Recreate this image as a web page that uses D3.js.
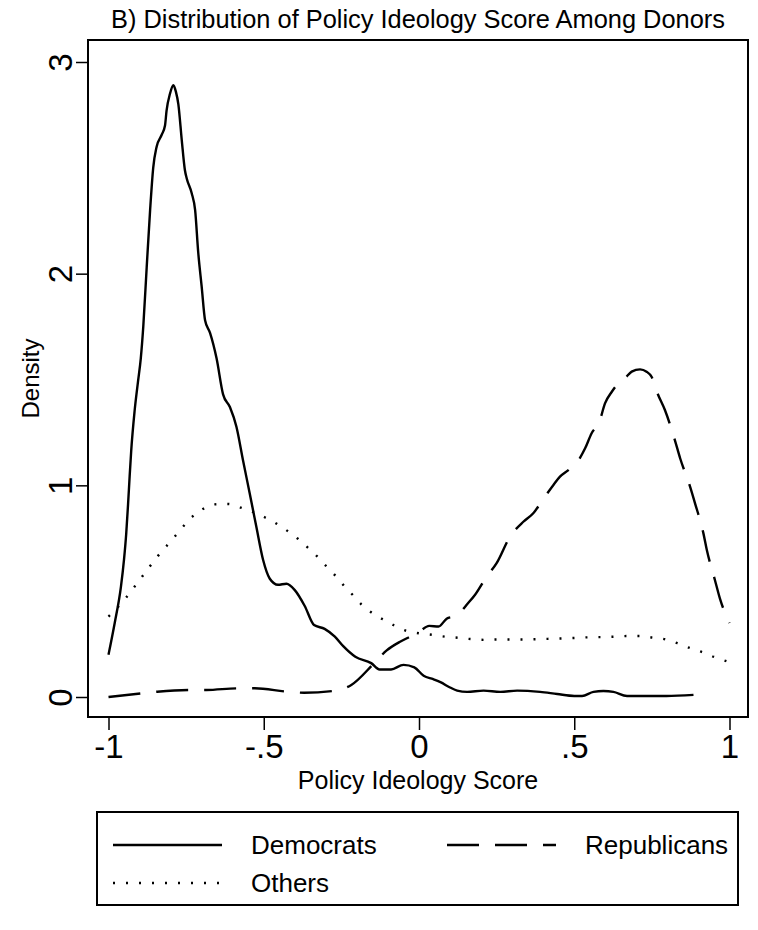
<!DOCTYPE html>
<html>
<head>
<meta charset="utf-8">
<script src="https://cdn.jsdelivr.net/npm/d3@7"></script>
<style>
  html, body { margin: 0; padding: 0; background: #fff; }
  svg { display: block; }
  text { font-family: "Liberation Sans", Arial, Helvetica, sans-serif; fill: #000; }
</style>
</head>
<body>
<svg id="chart" width="758" height="930"></svg>
<script>
// ---------- data ----------
const titleText = "B) Distribution of Policy Ideology Score Among Donors";
const xTitle = "Policy Ideology Score";
const yTitle = "Density";
const xTicks = [-1, -0.5, 0, 0.5, 1];
const xTickLabels = ["-1", "-.5", "0", ".5", "1"];
const yTicks = [0, 1, 2, 3];
const yTickLabels = ["0", "1", "2", "3"];
const seriesNames = ["Democrats", "Republicans", "Others"];

const demX = [-1.0, -0.98, -0.96, -0.95, -0.943, -0.937, -0.932, -0.927, -0.916, -0.905, -0.896, -0.888, -0.877, -0.866, -0.856, -0.845, -0.829, -0.818, -0.813, -0.802, -0.791, -0.783, -0.775, -0.764, -0.754, -0.748, -0.732, -0.721, -0.711, -0.700, -0.689, -0.673, -0.652, -0.631, -0.609, -0.588, -0.567, -0.545, -0.524, -0.502, -0.481, -0.454, -0.427, -0.400, -0.368, -0.338, -0.304, -0.271, -0.244, -0.205, -0.154, -0.127, -0.09, -0.05, -0.015, 0.015, 0.046, 0.069, 0.10, 0.123, 0.155, 0.208, 0.262, 0.316, 0.39, 0.445, 0.5, 0.525, 0.562, 0.594, 0.626, 0.67, 0.745, 0.797, 0.884];
const demY = [0.20, 0.35, 0.52, 0.65, 0.77, 0.91, 1.04, 1.16, 1.35, 1.49, 1.60, 1.75, 2.03, 2.30, 2.50, 2.60, 2.655, 2.70, 2.77, 2.85, 2.89, 2.86, 2.80, 2.63, 2.49, 2.45, 2.38, 2.30, 2.10, 1.94, 1.78, 1.72, 1.60, 1.43, 1.37, 1.277, 1.12, 0.96, 0.805, 0.647, 0.56, 0.53, 0.535, 0.505, 0.43, 0.34, 0.322, 0.285, 0.24, 0.19, 0.16, 0.13, 0.13, 0.152, 0.14, 0.10, 0.084, 0.07, 0.045, 0.03, 0.024, 0.03, 0.024, 0.03, 0.024, 0.014, 0.005, 0.005, 0.024, 0.028, 0.024, 0.005, 0.005, 0.005, 0.01];

const repX = [-1.0, -0.896, -0.843, -0.738, -0.685, -0.583, -0.529, -0.424, -0.370, -0.270, -0.218, -0.145, -0.104, -0.061, -0.029, -0.002, 0.033, 0.063, 0.089, 0.121, 0.159, 0.18, 0.217, 0.25, 0.293, 0.336, 0.368, 0.40, 0.433, 0.454, 0.481, 0.508, 0.535, 0.556, 0.581, 0.599, 0.621, 0.647, 0.663, 0.685, 0.712, 0.733, 0.749, 0.768, 0.792, 0.824, 0.841, 0.873, 0.889, 0.916, 0.927, 0.953, 0.969, 1.0];
const repY = [0.0, 0.017, 0.025, 0.033, 0.033, 0.041, 0.041, 0.025, 0.02, 0.03, 0.057, 0.159, 0.22, 0.261, 0.285, 0.305, 0.336, 0.333, 0.37, 0.385, 0.445, 0.482, 0.567, 0.632, 0.757, 0.828, 0.868, 0.935, 1.002, 1.041, 1.072, 1.107, 1.175, 1.246, 1.30, 1.387, 1.442, 1.49, 1.506, 1.537, 1.548, 1.537, 1.513, 1.435, 1.356, 1.214, 1.128, 0.994, 0.915, 0.773, 0.694, 0.553, 0.466, 0.35];

const othX = [-1.0, -0.943, -0.918, -0.892, -0.866, -0.841, -0.813, -0.785, -0.758, -0.730, -0.696, -0.658, -0.615, -0.575, -0.497, -0.460, -0.425, -0.391, -0.359, -0.329, -0.300, -0.271, -0.243, -0.214, -0.186, -0.154, -0.117, -0.081, -0.042, 0.0, 0.041, 0.084, 0.125, 0.166, 0.209, 0.25, 0.336, 0.42, 0.502, 0.545, 0.588, 0.631, 0.671, 0.712, 0.755, 0.795, 0.832, 0.875, 0.916, 0.954, 1.0];
const othY = [0.38, 0.47, 0.518, 0.568, 0.619, 0.666, 0.713, 0.761, 0.808, 0.852, 0.888, 0.910, 0.912, 0.895, 0.849, 0.82, 0.786, 0.749, 0.707, 0.666, 0.62, 0.576, 0.528, 0.483, 0.438, 0.40, 0.367, 0.339, 0.313, 0.301, 0.294, 0.285, 0.28, 0.274, 0.27, 0.272, 0.272, 0.275, 0.279, 0.282, 0.283, 0.285, 0.288, 0.288, 0.28, 0.272, 0.254, 0.23, 0.21, 0.187, 0.165];

// ---------- layout ----------
const svg = d3.select("#chart");
const frame = { left: 88, right: 748, top: 40, bottom: 717 };
const x = d3.scaleLinear().domain([-1, 1]).range([108.5, 729.5]);
const y = d3.scaleLinear().domain([0, 3]).range([697, 62]);

const styles = {
  Democrats: { dash: null },
  Republicans: { dash: "32,16" },
  Others: { dash: "2,11" }
};

// title
svg.append("text")
  .attr("x", (frame.left + frame.right) / 2)
  .attr("y", 28)
  .attr("text-anchor", "middle")
  .style("font-size", "25.4px")
  .text(titleText);

// curves
const line = d3.line().x(d => x(d[0])).y(d => y(d[1])).curve(d3.curveMonotoneX);
const series = [
  { name: "Democrats", pts: d3.zip(demX, demY) },
  { name: "Republicans", pts: d3.zip(repX, repY) },
  { name: "Others", pts: d3.zip(othX, othY) }
];
svg.append("g").selectAll("path").data(series).join("path")
  .attr("d", d => line(d.pts))
  .attr("fill", "none")
  .attr("stroke", "#000")
  .attr("stroke-width", 2.4)
  .attr("stroke-dasharray", d => styles[d.name].dash);

// frame
svg.append("rect")
  .attr("x", frame.left).attr("y", frame.top)
  .attr("width", frame.right - frame.left).attr("height", frame.bottom - frame.top)
  .attr("fill", "none").attr("stroke", "#000").attr("stroke-width", 2);

// x axis
const gx = svg.append("g")
  .attr("transform", `translate(0,${frame.bottom})`)
  .call(d3.axisBottom(x).tickValues(xTicks).tickFormat((d, i) => xTickLabels[i]).tickSize(13).tickSizeOuter(0).tickPadding(5));
gx.select(".domain").remove();
gx.selectAll(".tick line").attr("stroke", "#000").attr("stroke-width", 1.5);
gx.selectAll(".tick text").style("font-size", "33px").attr("font-family", null).attr("fill", "#000");

// y axis
const gy = svg.append("g")
  .attr("transform", `translate(${frame.left},0)`)
  .call(d3.axisLeft(y).tickValues(yTicks).tickFormat((d, i) => yTickLabels[i]).tickSize(12).tickSizeOuter(0));
gy.select(".domain").remove();
gy.selectAll(".tick line").attr("stroke", "#000").attr("stroke-width", 1.5);
gy.selectAll(".tick text")
  .attr("x", 0).attr("y", -16).attr("dy", null)
  .attr("transform", "rotate(-90)")
  .attr("text-anchor", "middle")
  .attr("font-family", null).attr("fill", "#000")
  .style("font-size", "33px");

// axis titles
svg.append("text")
  .attr("x", (frame.left + frame.right) / 2)
  .attr("y", 789)
  .attr("text-anchor", "middle")
  .style("font-size", "25px")
  .text(xTitle);

svg.append("text")
  .attr("transform", `translate(39,${(frame.top + frame.bottom) / 2}) rotate(-90)`)
  .attr("text-anchor", "middle")
  .style("font-size", "24px")
  .text(yTitle);

// legend
const legend = { left: 97, right: 738, top: 812, bottom: 905 };
svg.append("rect")
  .attr("x", legend.left).attr("y", legend.top)
  .attr("width", legend.right - legend.left).attr("height", legend.bottom - legend.top)
  .attr("fill", "#fff").attr("stroke", "#000").attr("stroke-width", 2);

const legendItems = [
  { name: "Democrats", lx: 113, ly: 845 },
  { name: "Republicans", lx: 447, ly: 845 },
  { name: "Others", lx: 113, ly: 883 }
];
const lg = svg.append("g").selectAll("g").data(legendItems).join("g");
lg.append("line")
  .attr("x1", d => d.lx).attr("x2", d => d.lx + 109)
  .attr("y1", d => d.ly).attr("y2", d => d.ly)
  .attr("stroke", "#000").attr("stroke-width", 2.4)
  .attr("stroke-dasharray", d => styles[d.name].dash);
lg.append("text")
  .attr("x", d => d.lx + 138)
  .attr("y", d => d.ly + 9)
  .style("font-size", "26px")
  .text(d => d.name);
</script>
</body>
</html>
